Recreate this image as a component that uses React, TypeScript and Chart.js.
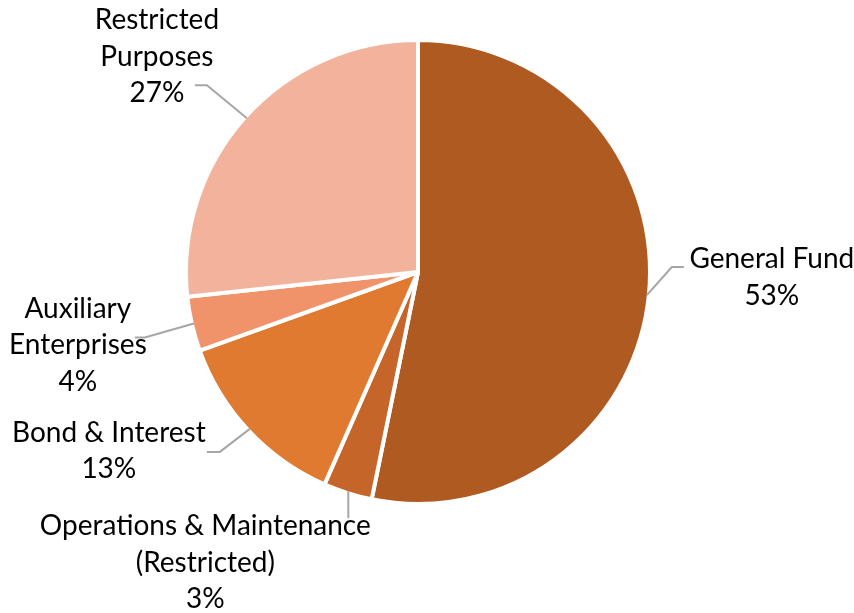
import React, { useEffect, useRef } from "react";
import { Chart, registerables } from "chart.js";

Chart.register(...registerables);

const categories = [
  "General Fund",
  "Operations & Maintenance (Restricted)",
  "Bond & Interest",
  "Auxiliary Enterprises",
  "Restricted Purposes",
];
const labelLines = [
  ["General Fund"],
  ["Operations & Maintenance", "(Restricted)"],
  ["Bond & Interest"],
  ["Auxiliary", "Enterprises"],
  ["Restricted", "Purposes"],
];
const values = [53.2, 3.4, 12.9, 3.8, 26.7];
const colors = ["#AE5A21", "#C6652A", "#E07A30", "#F0926A", "#F3B29B"];

// Label layout relative to the slice's outer edge point (leader elbow, leader end, text centre/first baseline)
const labelLayout = [
  { elbow: [25, -28], end: [37, -28], text: [125, -27] },
  { elbow: [0, 27], end: [0, 27], text: [-143, 44] },
  { elbow: [-30, 23], end: [-43, 23], text: [-141, 13] },
  { elbow: [-49, 14], end: [-59, 14], text: [-116, -6] },
  { elbow: [-40, -33], end: [-52, -33], text: [-90, -89] },
];

const FONT = "28px Lato";
const LINE_H = 36.5;

const labelPlugin = {
  id: "pieLabels",
  afterDatasetsDraw(chart: any) {
    const ctx = chart.ctx;
    const meta = chart.getDatasetMeta(0);
    const data = chart.data.datasets[0].data as number[];
    const total = data.reduce((a, b) => a + b, 0);
    ctx.save();
    meta.data.forEach((arc: any, i: number) => {
      const p = arc.getProps(["x", "y", "startAngle", "endAngle", "outerRadius"], true);
      const mid = (p.startAngle + p.endAngle) / 2;
      const r = p.outerRadius - 2;
      const ex = p.x + Math.cos(mid) * r;
      const ey = p.y + Math.sin(mid) * r;
      const L = labelLayout[i];
      ctx.strokeStyle = "#A6A6A6";
      ctx.lineWidth = 2;
      ctx.beginPath();
      ctx.moveTo(ex, ey);
      ctx.lineTo(ex + L.elbow[0], ey + L.elbow[1]);
      ctx.lineTo(ex + L.end[0], ey + L.end[1]);
      ctx.stroke();
      const lines = [...labelLines[i], Math.round((data[i] / total) * 100) + "%"];
      ctx.fillStyle = "#000000";
      ctx.font = FONT;
      ctx.textAlign = "center";
      ctx.textBaseline = "alphabetic";
      lines.forEach((t, k) => {
        ctx.fillText(t, ex + L.text[0], ey + L.text[1] + k * LINE_H);
      });
    });
    ctx.restore();
  },
};

export default function App() {
  const ref = useRef<HTMLCanvasElement | null>(null);
  useEffect(() => {
    if (!ref.current) return;
    const chart = new Chart(ref.current, {
      type: "pie",
      data: {
        labels: categories,
        datasets: [
          {
            data: values,
            backgroundColor: colors,
            borderColor: "#FFFFFF",
            borderWidth: 4,
          },
        ],
      },
      options: {
        responsive: false,
        animation: false,
        layout: { padding: { left: 184, right: 202, top: 38, bottom: 107 } },
        plugins: {
          legend: { display: false },
          tooltip: { enabled: false },
        },
      },
      plugins: [labelPlugin],
    });
    return () => chart.destroy();
  }, []);
  return (
    <div style={{ position: "absolute", left: 0, top: 0, width: 854, height: 613, background: "#FFFFFF" }}>
      <canvas ref={ref} width={854} height={613} style={{ display: "block" }} />
    </div>
  );
}
